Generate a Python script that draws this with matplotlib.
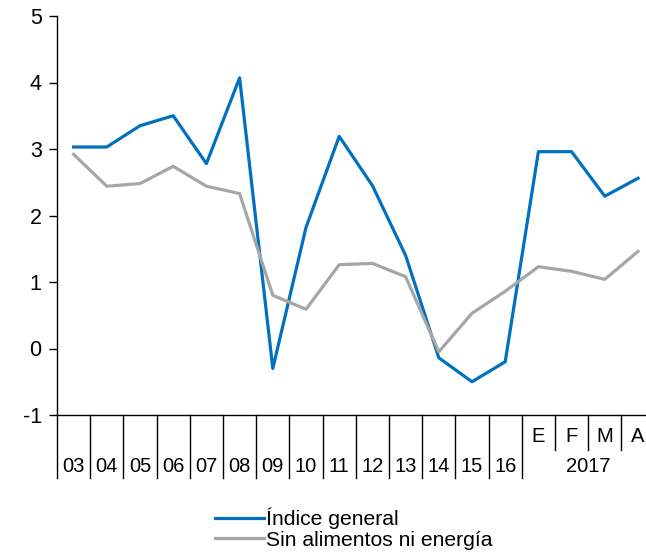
import matplotlib.pyplot as plt
import matplotlib.transforms as mtransforms

plt.rcParams['font.family'] = ['Liberation Sans', 'DejaVu Sans']
plt.rcParams['axes.unicode_minus'] = False

# categories: years 2003-2016, then months of 2017
years = ["03", "04", "05", "06", "07", "08", "09", "10", "11", "12", "13", "14", "15", "16"]
months = ["E", "F", "M", "A"]
year_2017 = "2017"

general = [3.03, 3.03, 3.35, 3.50, 2.78, 4.07, -0.30, 1.82, 3.19, 2.45, 1.40, -0.14, -0.50, -0.20,
           2.96, 2.96, 2.29, 2.56]
core = [2.92, 2.44, 2.48, 2.74, 2.44, 2.33, 0.80, 0.59, 1.26, 1.28, 1.08, -0.05, 0.53, 0.86,
        1.23, 1.16, 1.04, 1.46]

W, H = 646, 555
fig = plt.figure(figsize=(W / 100, H / 100), dpi=100)
ax = fig.add_axes([57 / W, 1 - 415 / H, (W - 57) / W, (415 - 16) / H])

x = list(range(len(general)))
ax.plot(x, general, color="#0070C0", lw=2.3, label="Índice general")
ax.plot(x, core, color="#A6A6A6", lw=2.3, label="Sin alimentos ni energía")

ax.set_ylim(-1, 5)
ax.set_xlim(-0.5, -0.5 + (W - 57) / 33.2)
ax.set_yticks(range(-1, 6))
ax.tick_params(axis="y", direction="out", length=6, width=1, labelsize=15.5, pad=5)
ax.set_xticks([])
for s in ["top", "right"]:
    ax.spines[s].set_visible(False)
for s in ["left", "bottom"]:
    ax.spines[s].set_linewidth(1.0)

# category separators and labels below the axis
trans = mtransforms.blended_transform_factory(ax.transData, ax.transAxes)
ah = 415 - 16
long_y = -63 / ah
short_y = -35 / ah
n_years = len(years)
for i in range(n_years + 1):
    ax.plot([i - 0.5, i - 0.5], [0, long_y], color="black", lw=1.0, transform=trans, clip_on=False)
for j in range(1, len(months) + 1):
    xb = n_years + j - 0.5
    ax.plot([xb, xb], [0, short_y], color="black", lw=1.0, transform=trans, clip_on=False)

for i, lab in enumerate(years):
    ax.text(i, -51 / ah, lab, transform=trans, ha="center", va="center", fontsize=14.5)
for j, lab in enumerate(months):
    ax.text(n_years + j, -22 / ah, lab, transform=trans, ha="center", va="center", fontsize=14.5)
ax.text(n_years + (len(months) - 1) / 2, -51 / ah, year_2017, transform=trans,
        ha="center", va="center", fontsize=14.5)

fig.legend(loc="upper left", bbox_to_anchor=(207 / W, 1 - 499 / H), frameon=False,
           fontsize=15.2, handlelength=2.3, handletextpad=0.1, labelspacing=0.08,
           borderaxespad=0)

fig.savefig("out.png", dpi=100)
